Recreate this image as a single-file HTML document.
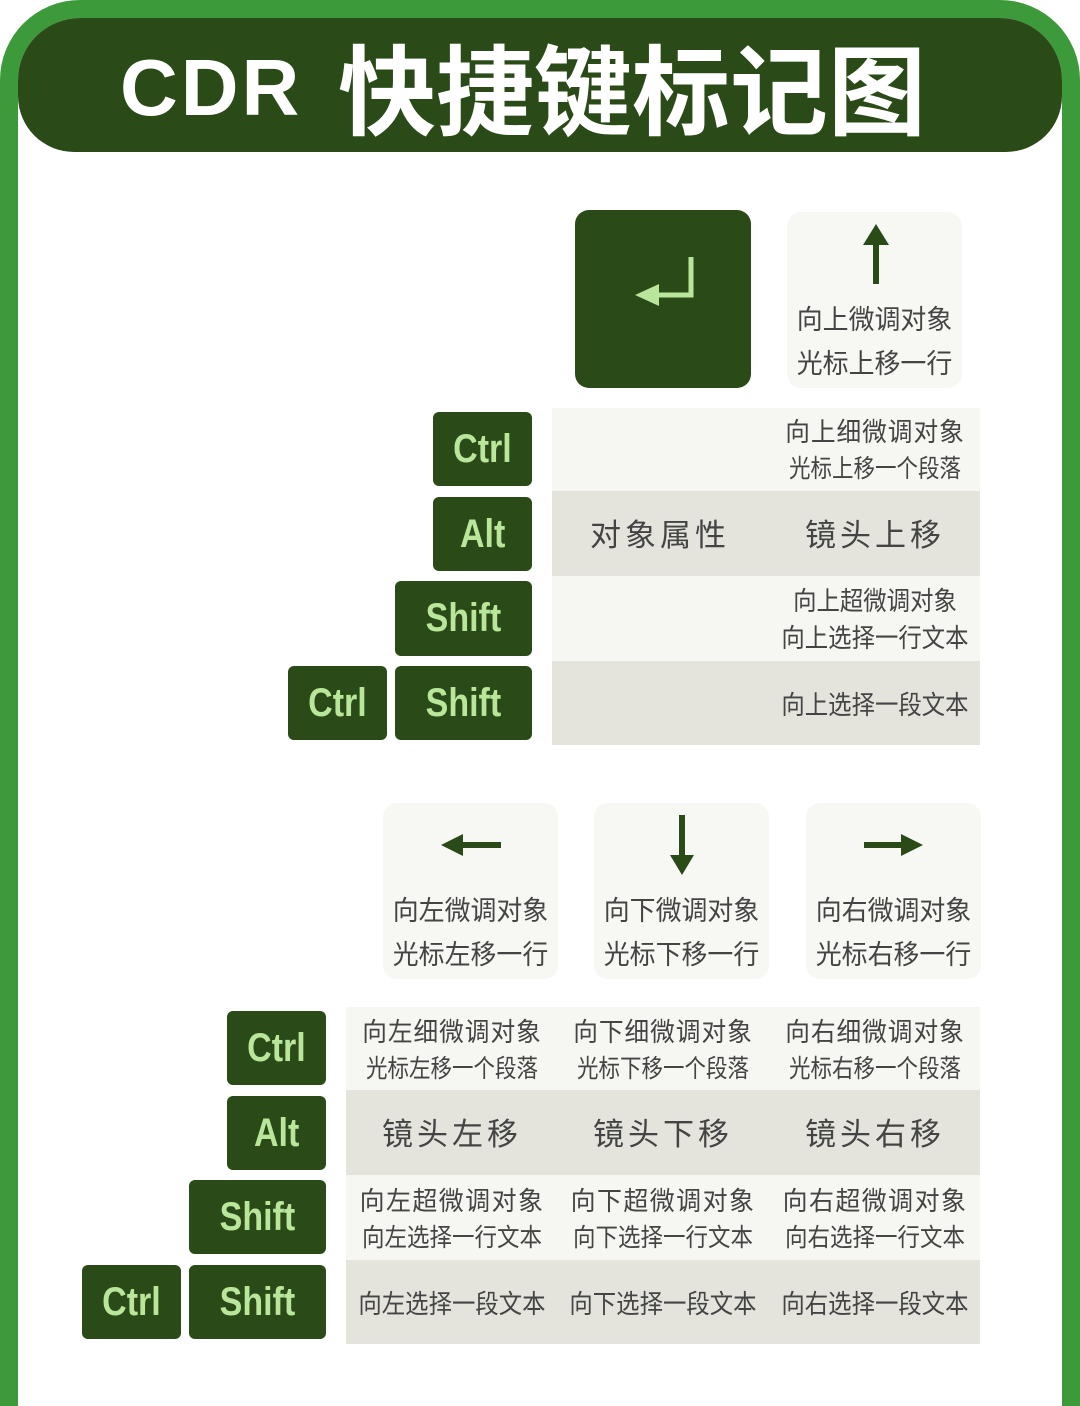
<!DOCTYPE html>
<html><head><meta charset="utf-8"><style>
*{margin:0;padding:0;box-sizing:border-box}
html,body{width:1080px;height:1406px;overflow:hidden;background:#fff;font-family:"Liberation Sans","Noto Sans CJK SC",sans-serif}
.frame{position:absolute;left:0;top:0;width:1080px;height:1406px;background:#3d9a3a;border-radius:80px 80px 0 0}
.inner{position:absolute;left:18px;top:18px;width:1044px;height:1388px;background:#fff;border-radius:62px 62px 0 0}
.hdr{position:absolute;left:18px;top:18px;width:1044px;height:134px;background:#2a4a17;border-radius:62px 62px 56px 56px}
.hc{position:absolute;color:#fff;font-weight:bold;white-space:nowrap}
.a{position:absolute}
.key{position:absolute;background:#2a4a17;border-radius:6px;color:#b9e69a;font-weight:bold;font-size:40px;display:flex;align-items:center;justify-content:center;font-family:"Liberation Sans Narrow","Liberation Sans",sans-serif}
.key span{display:inline-block;transform:scaleX(.85)}
.row{position:absolute;}
.l{background:#f6f6f2}.g{background:#e4e4dd}
.t{position:absolute;color:#444;text-align:center;font-family:"Noto Sans CJK SC",sans-serif;white-space:nowrap}
.card{position:absolute;background:#f7f7f3;border-radius:14px;width:175px;height:176px}
.card .t{left:0;width:175px;font-size:27px;line-height:44px;top:84px;transform:scaleX(.96)}
.s1{font-size:26px;letter-spacing:1px;transform:scaleX(.95)}
.s2{font-size:25px;transform:scaleX(.86)}
</style></head><body>
<div class="frame"></div><div class="inner"></div>
<div class="hdr"></div>
<div class="hc" style="left:120px;top:38px;font-family:'Liberation Sans',sans-serif;font-size:80px;line-height:100px;letter-spacing:3px">CDR</div>
<div class="hc" style="left:338px;top:28px;font-family:'Noto Sans CJK SC',sans-serif;font-size:98px;line-height:114px">快捷键标记图</div>

<div class="a" style="left:575px;top:210px;width:176px;height:178px;background:#2a4a17;border-radius:14px"></div>
<svg class="a" style="left:575px;top:210px" width="176" height="178"><polyline points="116,47 116,85 84,85" fill="none" stroke="#b9e69a" stroke-width="5"/><polygon points="60,85 84,74 84,96" fill="#b9e69a"/></svg>

<div class="card" style="left:787px;top:212px"><svg class="a" style="left:0;top:0" width="175" height="90"><rect x="86" y="30" width="6" height="42" fill="#2a4a17"/><polygon points="89,12 76,33 102,33" fill="#2a4a17"/></svg><div class="t">向上微调对象<br>光标上移一行</div></div>

<div class="row l" style="left:552px;top:408px;width:428px;height:83px"></div>
<div class="row g" style="left:552px;top:491px;width:428px;height:85px"></div>
<div class="row l" style="left:552px;top:576px;width:428px;height:85px"></div>
<div class="row g" style="left:552px;top:661px;width:428px;height:84px"></div>
<div class="t" style="left:770px;width:210px;top:413px;line-height:36px"><div class="s1">向上细微调对象</div><div class="s2">光标上移一个段落</div></div>
<div class="t" style="left:560px;width:200px;top:510px;font-size:31px;line-height:46px;letter-spacing:4px">对象属性</div>
<div class="t" style="left:770px;width:210px;top:510px;font-size:31px;line-height:46px;letter-spacing:4px">镜头上移</div>
<div class="t" style="left:770px;width:210px;top:581px;font-size:26px;line-height:37px;transform:scaleX(.9)">向上超微调对象<br>向上选择一行文本</div>
<div class="t" style="left:770px;width:210px;top:684px;font-size:26px;line-height:40px;transform:scaleX(.9)">向上选择一段文本</div>

<div class="key" style="left:433px;top:412px;width:99px;height:74px"><span>Ctrl</span></div>
<div class="key" style="left:433px;top:497px;width:99px;height:74px"><span>Alt</span></div>
<div class="key" style="left:395px;top:581px;width:137px;height:75px"><span>Shift</span></div>
<div class="key" style="left:288px;top:666px;width:99px;height:74px"><span>Ctrl</span></div>
<div class="key" style="left:395px;top:666px;width:137px;height:74px"><span>Shift</span></div>

<div class="card" style="left:383px;top:803px"><svg class="a" style="left:0;top:0" width="175" height="90"><rect x="78" y="39" width="40" height="6" fill="#2a4a17"/><polygon points="58,42 80,31 80,53" fill="#2a4a17"/></svg><div class="t">向左微调对象<br>光标左移一行</div></div>
<div class="card" style="left:594px;top:803px"><svg class="a" style="left:0;top:0" width="175" height="90"><rect x="85" y="12" width="6" height="42" fill="#2a4a17"/><polygon points="88,72 76,52 100,52" fill="#2a4a17"/></svg><div class="t">向下微调对象<br>光标下移一行</div></div>
<div class="card" style="left:806px;top:803px"><svg class="a" style="left:0;top:0" width="175" height="90"><rect x="58" y="39" width="40" height="6" fill="#2a4a17"/><polygon points="117,42 95,31 95,53" fill="#2a4a17"/></svg><div class="t">向右微调对象<br>光标右移一行</div></div>

<div class="row l" style="left:346px;top:1007px;width:634px;height:83px"></div>
<div class="row g" style="left:346px;top:1090px;width:634px;height:85px"></div>
<div class="row l" style="left:346px;top:1175px;width:634px;height:85px"></div>
<div class="row g" style="left:346px;top:1260px;width:634px;height:84px"></div>

<div class="t" style="left:347px;width:210px;top:1012px;line-height:37px"><div class="s1">向左细微调对象</div><div class="s2">光标左移一个段落</div></div>
<div class="t" style="left:558px;width:210px;top:1012px;line-height:37px"><div class="s1">向下细微调对象</div><div class="s2">光标下移一个段落</div></div>
<div class="t" style="left:770px;width:210px;top:1012px;line-height:37px"><div class="s1">向右细微调对象</div><div class="s2">光标右移一个段落</div></div>
<div class="t" style="left:347px;width:210px;top:1109px;font-size:31px;line-height:46px;letter-spacing:4px">镜头左移</div>
<div class="t" style="left:558px;width:210px;top:1109px;font-size:31px;line-height:46px;letter-spacing:4px">镜头下移</div>
<div class="t" style="left:770px;width:210px;top:1109px;font-size:31px;line-height:46px;letter-spacing:4px">镜头右移</div>
<div class="t" style="left:347px;width:210px;top:1181px;line-height:37px"><div style="font-size:26px;letter-spacing:1.5px;transform:scaleX(.96)">向左超微调对象</div><div class="s2" style="transform:scaleX(.9)">向左选择一行文本</div></div>
<div class="t" style="left:558px;width:210px;top:1181px;line-height:37px"><div style="font-size:26px;letter-spacing:1.5px;transform:scaleX(.96)">向下超微调对象</div><div class="s2" style="transform:scaleX(.9)">向下选择一行文本</div></div>
<div class="t" style="left:770px;width:210px;top:1181px;line-height:37px"><div style="font-size:26px;letter-spacing:1.5px;transform:scaleX(.96)">向右超微调对象</div><div class="s2" style="transform:scaleX(.9)">向右选择一行文本</div></div>
<div class="t" style="left:347px;width:210px;top:1283px;font-size:26px;line-height:40px;transform:scaleX(.9)">向左选择一段文本</div>
<div class="t" style="left:558px;width:210px;top:1283px;font-size:26px;line-height:40px;transform:scaleX(.9)">向下选择一段文本</div>
<div class="t" style="left:770px;width:210px;top:1283px;font-size:26px;line-height:40px;transform:scaleX(.9)">向右选择一段文本</div>

<div class="key" style="left:227px;top:1011px;width:99px;height:74px"><span>Ctrl</span></div>
<div class="key" style="left:227px;top:1096px;width:99px;height:74px"><span>Alt</span></div>
<div class="key" style="left:189px;top:1180px;width:137px;height:74px"><span>Shift</span></div>
<div class="key" style="left:82px;top:1265px;width:99px;height:74px"><span>Ctrl</span></div>
<div class="key" style="left:189px;top:1265px;width:137px;height:74px"><span>Shift</span></div>
</body></html>
